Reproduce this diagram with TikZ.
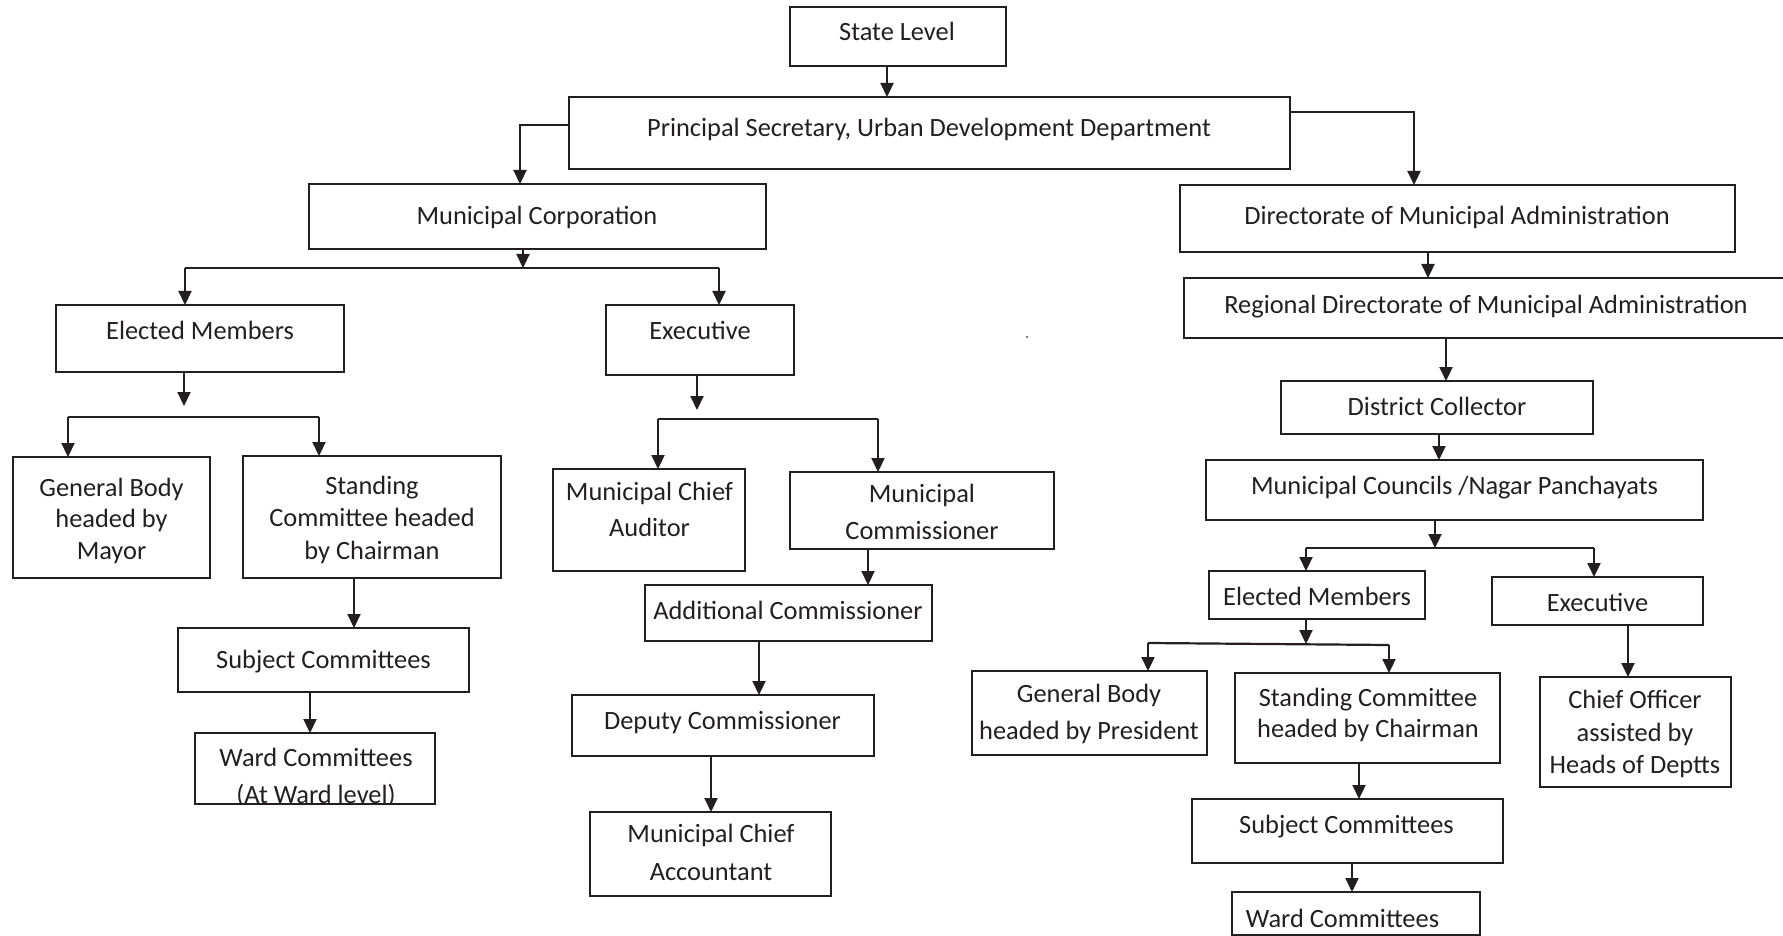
\documentclass[tikz,border=0pt]{standalone}
\usepackage{fontspec}
\setmainfont{Carlito}
\usetikzlibrary{arrows.meta,fit}
\definecolor{ink}{RGB}{35,31,32}
\newcommand{\obox}[5]{\path (#2,#3) coordinate (#1-a) (#4,#5) coordinate (#1-b); \node[box, fit=(#1-a)(#1-b)] (#1) {};}
\begin{document}
\begin{tikzpicture}[x=0.5pt,y=-0.5pt,
  box/.style={draw=ink, line width=1.2pt, inner sep=0pt, outer sep=0pt},
  txt/.style={font=\fontsize{13.2}{#1}\selectfont, text=ink, align=center, inner sep=0pt, yshift=-1.6pt, execute at begin node=\strut, execute at end node=\strut},
  txt/.default=16pt,
  conn/.style={draw=ink, line width=1.1pt},
  arr/.style={conn, -{Triangle[width=6.5pt,length=7pt]}}]
\useasboundingbox (0,0) rectangle (1783,936);

% ---------- texts ----------
\node[txt] (t-state) at (897,31) {State Level};
\node[txt] (t-ps) at (929,126.6) {Principal Secretary, Urban Development Department};
\node[txt] (t-mc) at (537,214.6) {Municipal Corporation};
\node[txt] (t-dma) at (1457,214.6) {Directorate of Municipal Administration};
\node[txt] (t-rdma) at (1486,303.6) {Regional Directorate of Municipal Administration};
\node[txt] (t-em) at (200,329.6) {Elected Members};
\node[txt] (t-ex) at (700,329.6) {Executive};
\node[txt=15.75pt] (t-gb) at (111.5,520) {General Body\\headed by\\Mayor};
\node[txt=16.25pt] (t-sc) at (372,519.5) {Standing\\Committee headed\\by Chairman};
\node[txt=18pt] (t-mca) at (649.5,512) {Municipal Chief\\Auditor};
\node[txt=18.5pt] (t-mcom) at (922,514) {Municipal\\Commissioner};
\node[txt] (t-adc) at (788,609.6) {Additional Commissioner};
\node[txt] (t-sub) at (323.5,658.6) {Subject Committees};
\node[txt=18.5pt] (t-ward) at (316,778.5) {Ward Committees\\(At Ward level)};
\node[txt] (t-dc) at (722.5,719.6) {Deputy Commissioner};
\node[txt=19.3pt] (t-acc) at (711,855) {Municipal Chief\\Accountant};
\node[txt] (t-col) at (1437,405.6) {District Collector};
\node[txt] (t-mcnp) at (1454.5,484.6) {Municipal Councils /Nagar Panchayats};
\node[txt] (t-emr) at (1317,595.6) {Elected Members};
\node[txt] (t-exr) at (1597.5,601.6) {Executive};
\node[txt=18.5pt] (t-gbr) at (1089,714) {General Body\\headed by President};
\node[txt=15.5pt] (t-scr) at (1368,714) {Standing Committee\\headed by Chairman};
\node[txt=16.25pt] (t-co) at (1635,734) {Chief Officer\\assisted by\\Heads of Deptts};
\node[txt] (t-subr) at (1346.5,823.6) {Subject Committees};
\node[txt] (t-wardr) at (1342.5,917.6) {Ward Committees};

% clip the lower line of the left ward box
\fill[white] (190,805) rectangle (440,840);

% ---------- boxes ----------
\obox{state}{790}{7}{1006}{66}
\obox{ps}{569}{97}{1290}{169}
\obox{mc}{309}{184}{766}{249}
\obox{dma}{1180}{185}{1735}{252}
\obox{rdma}{1184}{278}{1800}{338}
\obox{em}{56}{305}{344}{372}
\obox{ex}{606}{305}{794}{375}
\obox{gb}{13}{457}{210}{578}
\obox{sc}{243}{456}{501}{578}
\obox{sub}{178}{628}{469}{692}
\obox{ward}{195}{733}{435}{804}
\obox{mca}{553}{469}{745}{571}
\obox{mcom}{790}{472}{1054}{549}
\obox{adc}{645}{585}{932}{641}
\obox{dc}{572}{695}{874}{756}
\obox{acc}{590}{812}{831}{896}
\obox{col}{1281}{381}{1593}{434}
\obox{mcnp}{1206}{460}{1703}{520}
\obox{emr}{1209}{571}{1425}{619}
\obox{exr}{1492}{577}{1703}{625}
\obox{gbr}{972}{671}{1207}{755}
\obox{scr}{1235}{673}{1500}{763}
\obox{co}{1540}{677}{1731}{787}
\obox{subr}{1192}{799}{1503}{863}
\obox{wardr}{1232}{892}{1480}{935}

% stray dot
\fill[gray] (1026,336) rectangle (1028,338);

% ---------- connectors ----------
\draw[arr] (state.south -| 887,0) -- (ps.north -| 887,0);
\draw[arr] (ps.west |- 0,125) -| (mc.north -| 520,0);
\draw[arr] (ps.east |- 0,112) -| (dma.north -| 1414,0);

\coordinate (b1) at (523,268);
\coordinate (b1l) at (185,268);
\coordinate (b1r) at (719,268);
\draw[arr] (mc.south -| b1) -- (b1);
\draw[conn] (b1l) -- (b1r);
\draw[arr] (b1l) -- (em.north -| b1l);
\draw[arr] (b1r) -- (ex.north -| b1r);

\coordinate (b2a) at (184,406);
\coordinate (b2l) at (68,417);
\coordinate (b2r) at (319,417);
\draw[arr] (em.south -| b2a) -- (b2a);
\draw[conn] (b2l) -- (b2r);
\draw[arr] (b2l) -- (gb.north -| b2l);
\draw[arr] (b2r) -- (sc.north -| b2r);

\coordinate (b3a) at (697,410);
\coordinate (b3l) at (658,419);
\coordinate (b3r) at (878,419);
\draw[arr] (ex.south -| b3a) -- (b3a);
\draw[conn] (b3l) -- (b3r);
\draw[arr] (b3l) -- (mca.north -| b3l);
\draw[arr] (b3r) -- (mcom.north -| b3r);

\draw[arr] (mcom.south -| 868,0) -- (adc.north -| 868,0);
\draw[arr] (adc.south -| 759,0) -- (dc.north -| 759,0);
\draw[arr] (dc.south -| 711,0) -- (acc.north -| 711,0);
\draw[arr] (sc.south -| 354,0) -- (sub.north -| 354,0);
\draw[arr] (sub.south -| 310,0) -- (ward.north -| 310,0);

\draw[arr] (dma.south -| 1428,0) -- (rdma.north -| 1428,0);
\draw[arr] (rdma.south -| 1446,0) -- (col.north -| 1446,0);
\draw[arr] (col.south -| 1439,0) -- (mcnp.north -| 1439,0);

\coordinate (b4a) at (1435,548);
\coordinate (b4l) at (1306,548);
\coordinate (b4r) at (1594,548);
\draw[arr] (mcnp.south -| b4a) -- (b4a);
\draw[conn] (b4l) -- (b4r);
\draw[arr] (b4l) -- (emr.north -| b4l);
\draw[arr] (b4r) -- (exr.north -| b4r);

\coordinate (b5a) at (1306,644);
\coordinate (b5l) at (1148,643);
\coordinate (b5r) at (1389,645);
\draw[arr] (emr.south -| b5a) -- (b5a);
\draw[conn] (b5l) -- (b5r);
\draw[arr] (b5l) -- (gbr.north -| b5l);
\draw[arr] (b5r) -- (scr.north -| b5r);

\draw[arr] (exr.south -| 1628,0) -- (co.north -| 1628,0);
\draw[arr] (scr.south -| 1359,0) -- (subr.north -| 1359,0);
\draw[arr] (subr.south -| 1352,0) -- (wardr.north -| 1352,0);
\end{tikzpicture}
\end{document}
